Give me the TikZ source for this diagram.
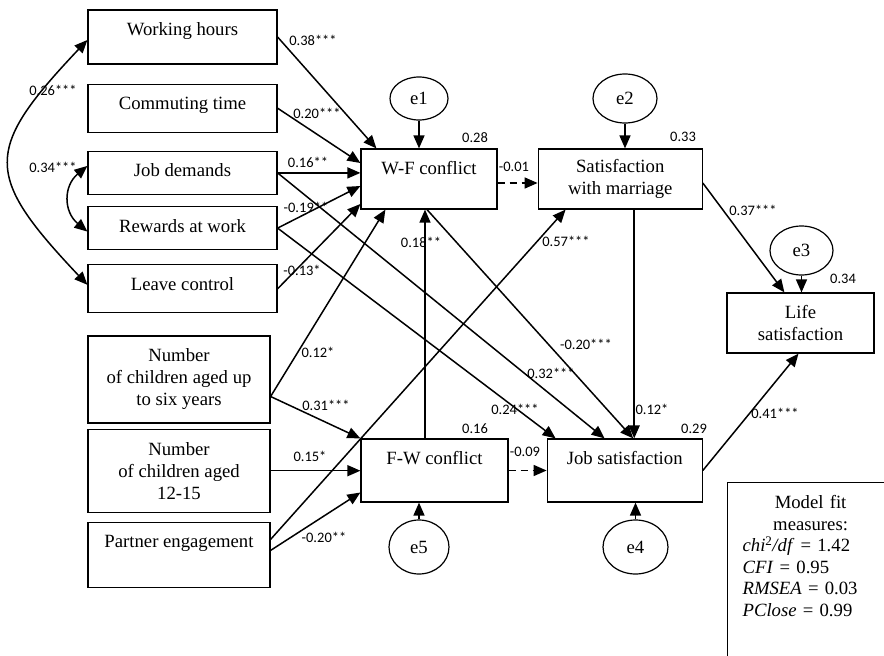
\documentclass[tikz,border=0pt]{standalone}
\usepackage{fontspec}
\setmainfont{Liberation Serif}
\newfontfamily\coeffont{Carlito}
\usetikzlibrary{arrows.meta,positioning,shapes.geometric}

\tikzset{
	var/.style={draw, line width=1.2pt, inner sep=0pt, text height=25.5pt, minimum width=189pt},
	mvar/.style={draw, line width=1.2pt, inner sep=0pt, align=center},
	err/.style={draw, ellipse, line width=1.2pt, inner sep=0pt},
	coef/.style={font=\coeffont\fontsize{14.5}{17}\selectfont, inner sep=0pt},
	effect/.style={line width=1.5pt, -{Triangle[length=13pt,width=11pt]}},
	weak/.style={effect, dash pattern=on 7pt off 5pt},
	cov/.style={line width=1.5pt, {Triangle[length=13pt,width=11pt]}-{Triangle[length=13pt,width=11pt]}},
}

\begin{document}
\begin{tikzpicture}[x=1pt, y=-1pt, font=\fontsize{18.7}{22}\selectfont]
		\useasboundingbox (0,0) rectangle (884,656);
		\clip (0,0) rectangle (884,656);
		
		% work domain
		\node[var, text depth=28.5pt] (wh) at (182.5,37) {Working hours};
		\node[var, text depth=22.5pt, below=19pt of wh] (ct) {Commuting time};
		\node[var, text depth=17.5pt, below=18pt of ct] (jd) {Job demands};
		\node[var, text depth=17.5pt, below=11pt of jd] (rw) {Rewards at work};
		\node[var, text depth=22.5pt, below=14pt of rw] (lc) {Leave control};
		
		% family domain
		\node[mvar, minimum width=182pt, minimum height=87pt] (n6) at (179,379.5) {Number\\of children aged up\\to six years};
		\node[mvar, minimum width=182pt, minimum height=83pt, below=5pt of n6] (n12) {Number\\of children aged\\12-15};
		\node[var, minimum width=182pt, text depth=39.5pt, below=9pt of n12] (pe) {Partner engagement};
		
		% conflict and outcomes
		\node[var, minimum width=136pt, text depth=34.5pt] (wf) at (429,179) {W-F conflict};
		\node[mvar, minimum width=164pt, minimum height=60pt, right=40pt of wf] (sm) {Satisfaction\\with marriage};
		\node[var, minimum width=147pt, text depth=37.5pt] (fw) at (434.5,470.5) {F-W conflict};
		\node[var, minimum width=155pt, text depth=37.5pt, right=38pt of fw] (js) {Job satisfaction};
		\node[mvar, minimum width=147pt, minimum height=60pt] (ls) at (800.5,323) {Life\\satisfaction};
		
		% errors
		\node[err, minimum width=58pt, minimum height=43pt] (e1) at (419,98.5) {e1};
		\node[err, minimum width=64pt, minimum height=49pt] (e2) at (625,98.5) {e2};
		\node[err, minimum width=63pt, minimum height=49pt] (e3) at (801.5,250.5) {e3};
		\node[err, minimum width=65pt, minimum height=54pt] (e4) at (635.5,547) {e4};
		\node[err, minimum width=60pt, minimum height=54pt] (e5) at (419,547) {e5};
		
		\node[mvar, anchor=north west, inner xsep=15pt, inner ysep=13pt, text width=136pt, font=\fontsize{18.7}{21.5}\selectfont] (mf) at (727,482) {Model fit\\measures:\\
			\makebox[136pt][l]{\textit{chi}\textsuperscript{2}\textit{/df} = 1.42}\\
			\makebox[136pt][l]{\textit{CFI} = 0.95}\\
			\makebox[136pt][l]{\textit{RMSEA} = 0.03}\\
			\makebox[136pt][l]{\textit{PClose} = 0.99}\\
			\rule{0pt}{60pt}};
		
		\draw[cov] ([yshift=-3pt]wh.west) .. controls +(-104,110) and +(-104,-110) .. ([yshift=4pt]lc.west);
		\draw[cov] ([yshift=7pt]jd.west) .. controls +(-24,20) and +(-24,-20) .. ([yshift=-3.5pt]rw.west);
		
		\draw[effect] (wh.east) -- ([xshift=16pt]wf.north west);
		\draw[effect] (ct.east) -- ([yshift=16pt]wf.west);
		\draw[effect] (jd.east) -- (jd.east -| wf.west);
		\draw[effect] (rw.east) -- ([yshift=-7pt]wf.west);
		\draw[effect] (lc.east) -- ([yshift=-25pt]wf.west);
		\draw[effect] ([yshift=-17pt]n6.east) -- ([xshift=25pt]wf.south west);
		\draw[effect] ([yshift=-17pt]n6.east) -- (fw.north west);
		\draw[effect] (n12.east) -- (n12.east -| fw.west);
		\draw[effect] ([yshift=15.5pt]pe.east) -- ([xshift=28pt]sm.south west);
		\draw[effect] ([yshift=4.5pt]pe.east) -- ([yshift=-22pt]fw.west);
		\draw[effect] ([xshift=-9.5pt]fw.north) -- ([xshift=-4pt]wf.south);
		\draw[effect] ([xshift=-2pt]wf.south) -- ([xshift=8.5pt]js.north);
		\draw[effect] (jd.east) -- ([xshift=58pt]js.north west);
		\draw[effect] (rw.east) -- ([xshift=9pt]js.north west);
		\draw[effect] ([xshift=14pt]sm.south) -- ([xshift=9.5pt]js.north);
		\draw[weak] ([yshift=-4pt]wf.east) -- ([yshift=-4pt]sm.west);
		\draw[weak] (fw.east) -- (js.west);
		\draw[effect] ([yshift=-4pt]sm.east) -- ([xshift=58pt]ls.north west);
		\draw[effect] (js.east) -- ([xshift=-2pt]ls.south);
		
		\draw[effect] (e1) -- (e1 |- wf.north);
		\draw[effect] (e2) -- (e2 |- sm.north);
		\draw[effect] (e3) -- (e3 |- ls.north);
		\draw[effect] (e4) -- (e4 |- js.south);
		\draw[effect] (e5) -- (e5 |- fw.south);
		
		% coefficients
		\node[coef] (kwhlc) at (53,90) {0.26***};
		\node[coef] (kjdrw) at (53,167) {0.34***};
		\node[coef] (kwh) at (313,40) {0.38***};
		\node[coef] (kct) at (317,113) {0.20***};
		\node[coef] (kjd) at (308,162) {0.16**};
		\node[coef] (krw) at (306,207) {-0.19**};
		\node[coef] (klc) at (302,270) {-0.13*};
		\node[coef] (kn6wf) at (318,352) {0.12*};
		\node[coef] (kn6fw) at (326,405) {0.31***};
		\node[coef] (kn12) at (310,456) {0.15*};
		\node[coef] (kpefw) at (324,537) {-0.20**};
		\node[coef] (kpesm) at (566,241) {0.57***};
		\node[coef] (kfwwf) at (421,242) {0.18**};
		\node[coef] (kwfjs) at (586,344) {-0.20***};
		\node[coef] (kjdjs) at (551,373) {0.32***};
		\node[coef] (krwjs) at (515,409) {0.24***};
		\node[coef] (ksmjs) at (652,409) {0.12*};
		\node[coef] (kwfsm) at (514,167) {-0.01};
		\node[coef] (kfwjs) at (525,452) {-0.09};
		\node[coef] (ksmls) at (753,210) {0.37***};
		\node[coef] (kjsls) at (775,413) {0.41***};
		
		% explained variance
		\node[coef] (rwf) at (475,138) {0.28};
		\node[coef] (rsm) at (683,137) {0.33};
		\node[coef] (rls) at (843,279) {0.34};
		\node[coef] (rfw) at (475,429) {0.16};
		\node[coef] (rjs) at (694,429) {0.29};
		
	\end{tikzpicture}
\end{document}
